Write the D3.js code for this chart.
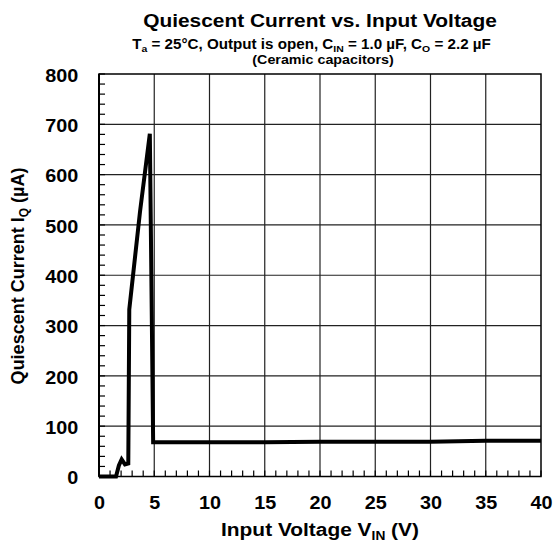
<!DOCTYPE html>
<html><head><meta charset="utf-8">
<script src="https://cdn.jsdelivr.net/npm/d3@7"></script>
<style>body{margin:0;background:#fff}svg{display:block}text{font-family:"Liberation Sans",Arial,sans-serif;font-weight:bold;fill:#000}</style>
</head><body>
<script>
const vin = [0, 1.54, 1.8, 2.05, 2.35, 2.65, 2.74, 3.71, 4.6, 4.9, 10, 15, 20, 25, 30, 35, 40];
const iq  = [0, 0, 22, 34, 24, 26, 332, 526, 681, 68, 68, 68, 69, 69, 69, 71, 71];
const xTicks = [0,5,10,15,20,25,30,35,40];
const yTicks = [0,100,200,300,400,500,600,700,800];

const W=555,H=546, L=99, R=541, T=74, B=476.5, SX=1.1;
const svg=d3.select("body").append("svg").attr("width",W).attr("height",H);
const x=d3.scaleLinear().domain([0,40]).range([L,R]);
const y=d3.scaleLinear().domain([0,800]).range([B,T]);

// grid
const g=svg.append("g");
g.selectAll(".vg").data(xTicks.slice(1,-1)).join("line").attr("x1",d=>x(d)).attr("x2",d=>x(d)).attr("y1",T).attr("y2",B).attr("stroke","#222").attr("stroke-width",1.2);
g.selectAll(".hg").data(yTicks.slice(1,-1)).join("line").attr("y1",d=>y(d)).attr("y2",d=>y(d)).attr("x1",L).attr("x2",R).attr("stroke","#222").attr("stroke-width",1.2);
// minor ticks
g.selectAll(".mx").data(d3.range(0,41,1)).join("line").attr("x1",d=>x(d)).attr("x2",d=>x(d)).attr("y1",B).attr("y2",B-6).attr("stroke","#000").attr("stroke-width",1.2);
g.selectAll(".my").data(d3.range(0,801,20)).join("line").attr("y1",d=>y(d)).attr("y2",d=>y(d)).attr("x1",L).attr("x2",L+6).attr("stroke","#000").attr("stroke-width",1.2);
// frame
svg.append("rect").attr("x",L).attr("y",T).attr("width",R-L).attr("height",B-T).attr("fill","none").attr("stroke","#000").attr("stroke-width",1.5);
svg.append("line").attr("x1",L).attr("x2",L).attr("y1",T).attr("y2",B).attr("stroke","#000").attr("stroke-width",2);

// axes labels via d3 axis
const xa=svg.append("g").attr("transform",`translate(0,${B})`).call(d3.axisBottom(x).tickValues(xTicks).tickSize(0).tickPadding(19.5));
xa.select(".domain").remove();
xa.selectAll("text").attr("font-size",18).attr("font-family","Liberation Sans, Arial, sans-serif").attr("font-weight","bold").attr("transform",`scale(${SX},1)`);
const ya=svg.append("g").attr("transform",`translate(${L},0)`).call(d3.axisLeft(y).tickValues(yTicks).tickSize(0));
ya.select(".domain").remove();
ya.selectAll("text").attr("font-size",18).attr("font-family","Liberation Sans, Arial, sans-serif").attr("font-weight","bold")
  .attr("x",-20.7/SX).attr("dy","0.4em").attr("transform",`scale(${SX},1)`);

// data line
svg.append("path").datum(vin.map((v,i)=>[v,iq[i]])).attr("fill","none").attr("stroke","#000").attr("stroke-width",4).attr("stroke-linejoin","miter")
  .attr("d",d3.line().x(d=>x(d[0])).y(d=>y(d[1])));

function htext(cx,cy,size){
  return svg.append("g").attr("transform",`translate(${cx},${cy}) scale(${SX},1)`).append("text").attr("text-anchor","middle").attr("font-size",size);
}
// titles
htext(320,27,19).text("Quiescent Current vs. Input Voltage");
const t2=htext(311.5,49.3,13.8);
t2.append("tspan").text("T");
t2.append("tspan").attr("font-size",9.5).attr("dy",2.5).text("a");
t2.append("tspan").attr("dy",-2.5).text(" = 25°C, Output is open, C");
t2.append("tspan").attr("font-size",9.5).attr("dy",2.5).text("IN");
t2.append("tspan").attr("dy",-2.5).text(" = 1.0 µF, C");
t2.append("tspan").attr("font-size",9.5).attr("dy",2.5).text("O");
t2.append("tspan").attr("dy",-2.5).text(" = 2.2 µF");
htext(323,64,13).text("(Ceramic capacitors)");

const xl=htext(320,536,19);
xl.append("tspan").text("Input Voltage V");
xl.append("tspan").attr("font-size",12.5).attr("dy",4).text("IN");
xl.append("tspan").attr("dy",-4).text(" (V)");

const yl=svg.append("text").attr("transform","translate(24,276) rotate(-90)").attr("text-anchor","middle").attr("font-size",18);
yl.append("tspan").text("Quiescent Current I");
yl.append("tspan").attr("font-size",12).attr("dy",4).text("Q");
yl.append("tspan").attr("dy",-4).text(" (µA)");
</script>
</body></html>
